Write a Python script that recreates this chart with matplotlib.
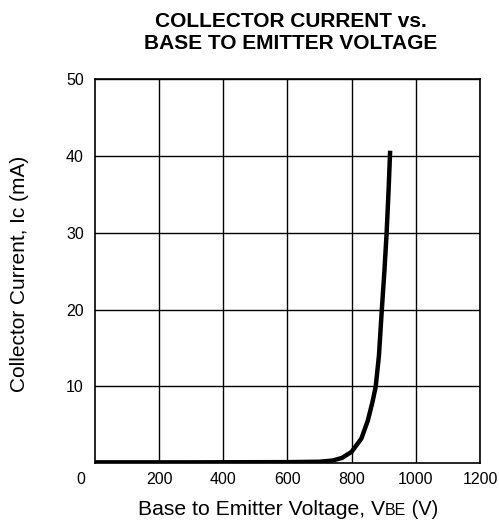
import numpy as np
import matplotlib.pyplot as plt

plt.rcParams['font.family'] = ['Liberation Sans', 'DejaVu Sans']

# Ic vs VBE curve points
vbe = [0, 300, 600, 700, 740, 770, 800, 830, 850, 865, 875, 885, 894, 902, 909, 915, 920]
ic = [0.12, 0.12, 0.15, 0.2, 0.35, 0.7, 1.5, 3.2, 5.5, 8.0, 10.0, 14.0, 20.0, 25.0, 30.0, 35.5, 40.7]

xticks = [200, 400, 600, 800, 1000, 1200]
yticks = [10, 20, 30, 40, 50]

fig = plt.figure(figsize=(4.99, 5.22), dpi=100)
ax = fig.add_axes([0.1904, 0.1125, 0.7715, 0.7356])

ax.plot(vbe, ic, color='black', lw=3.2, solid_capstyle='butt', zorder=3)

ax.set_xlim(0, 1200)
ax.set_ylim(0, 50)
ax.set_xticks(xticks)
ax.set_yticks(yticks)
ax.tick_params(length=0, labelsize=11.5)
ax.tick_params(axis='x', pad=6.5)
ax.tick_params(axis='y', pad=8)
ax.grid(True, color='black', lw=1)
for s in ax.spines.values():
    s.set_color('black')
    s.set_linewidth(1.2)

# origin label sits at the lower-left corner
ax.text(-45, -2.05, '0', fontsize=11.5, ha='center', va='center')

# two-line title
fig.text(0.583, 1 - 26.7 / 522, 'COLLECTOR CURRENT vs.', fontsize=15,
         fontweight='bold', ha='center', va='baseline')
fig.text(0.583, 1 - 49.3 / 522, 'BASE TO EMITTER VOLTAGE', fontsize=15,
         fontweight='bold', ha='center', va='baseline')

fig.text(20 / 499, 1 - 273.4 / 522, 'Collector Current, Ic (mA)', fontsize=15,
         rotation=90, ha='center', va='center')

# x label with small "BE", all pieces on one baseline
base_y = 1 - 515 / 522
x = 138 / 499
renderer = fig.canvas.get_renderer()
for txt, size in [('Base to Emitter Voltage, V', 15.2), ('BE', 11.5), (' (V)', 14.5)]:
    t = fig.text(x, base_y, txt, fontsize=size, ha='left', va='baseline')
    bb = t.get_window_extent(renderer)
    x = bb.x1 / fig.bbox.width

fig.savefig('out.png', dpi=100)
